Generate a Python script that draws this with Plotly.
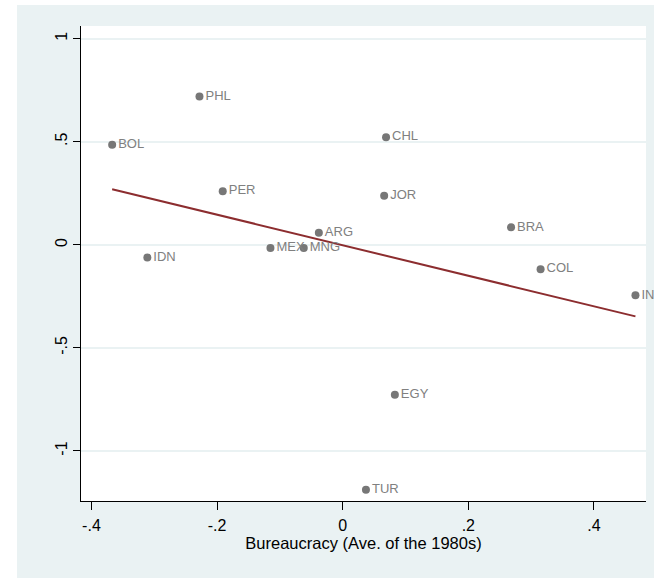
import plotly.graph_objects as go

countries = ["PHL", "BOL", "PER", "IDN", "MEX", "MNG", "ARG", "CHL", "JOR", "BRA", "COL", "IND", "EGY", "TUR"]
bureaucracy = [-0.228, -0.367, -0.191, -0.311, -0.115, -0.062, -0.038, 0.069, 0.066, 0.268, 0.315, 0.466, 0.083, 0.037]
outcome = [0.720, 0.485, 0.260, -0.062, -0.015, -0.015, 0.058, 0.522, 0.238, 0.085, -0.118, -0.245, -0.727, -1.188]

fit_slope = -0.741
fit_intercept = -0.002

x_tickvals = [-0.4, -0.2, 0, 0.2, 0.4]
x_ticktext = ["-.4", "-.2", "0", ".2", ".4"]
y_tickvals = [-1, -0.5, 0, 0.5, 1]
y_ticktext = ["-1", "-.5", "0", ".5", "1"]

W, H = 654, 578
ML, MR, MT, MB = 81, 8, 26, 77
PW, PH = W - ML - MR, H - MT - MB

BG = "#EAF2F3"
FONT = "Liberation Sans, Arial, sans-serif"

fig = go.Figure()

xmin, xmax = min(bureaucracy), max(bureaucracy)
fig.add_trace(go.Scatter(
    x=[xmin, xmax],
    y=[fit_intercept + fit_slope * xmin, fit_intercept + fit_slope * xmax],
    mode="lines",
    line=dict(color="#8C2D2F", width=2),
    hoverinfo="skip",
    showlegend=False,
))

fig.add_trace(go.Scatter(
    x=bureaucracy,
    y=outcome,
    mode="markers+text",
    text=countries,
    textposition="middle right",
    textfont=dict(family=FONT, size=13, color="#808080"),
    marker=dict(color="#777777", size=8, line=dict(width=0)),
    cliponaxis=False,
    showlegend=False,
))

# white strips outside the Stata-like graph region
fig.add_shape(type="rect", xref="paper", yref="paper",
              x0=-ML / PW, x1=(17 - ML) / PW, y0=-MB / PH, y1=1 + MT / PH,
              fillcolor="white", line=dict(width=0), layer="below")
fig.add_shape(type="rect", xref="paper", yref="paper",
              x0=-ML / PW, x1=1 + MR / PW, y0=1 + (MT - 5) / PH, y1=1 + MT / PH,
              fillcolor="white", line=dict(width=0), layer="below")

fig.update_layout(
    width=W, height=H,
    margin=dict(l=ML, r=MR, t=MT, b=MB),
    paper_bgcolor=BG,
    plot_bgcolor="white",
    font=dict(family=FONT, color="black"),
    showlegend=False,
    xaxis=dict(
        range=[-0.4166, 0.4828],
        tickvals=x_tickvals, ticktext=x_ticktext,
        ticks="outside", ticklen=8, tickcolor="black", tickwidth=1,
        ticklabelstandoff=2,
        showline=True, linecolor="black", linewidth=1,
        showgrid=False, zeroline=False,
        tickfont=dict(size=16, color="black"),
        title=dict(text="Bureaucracy (Ave. of the 1980s)", font=dict(size=16.5, color="black"), standoff=4),
    ),
    yaxis=dict(
        range=[-1.243, 1.0617],
        tickvals=y_tickvals, ticktext=y_ticktext,
        ticks="outside", ticklen=7, tickcolor="black", tickwidth=1,
        tickangle=-90,
        showline=True, linecolor="black", linewidth=1,
        showgrid=True, gridcolor=BG, gridwidth=1.5,
        zeroline=False,
        tickfont=dict(size=16, color="black"),
    ),
)

fig.write_html("out.html")
